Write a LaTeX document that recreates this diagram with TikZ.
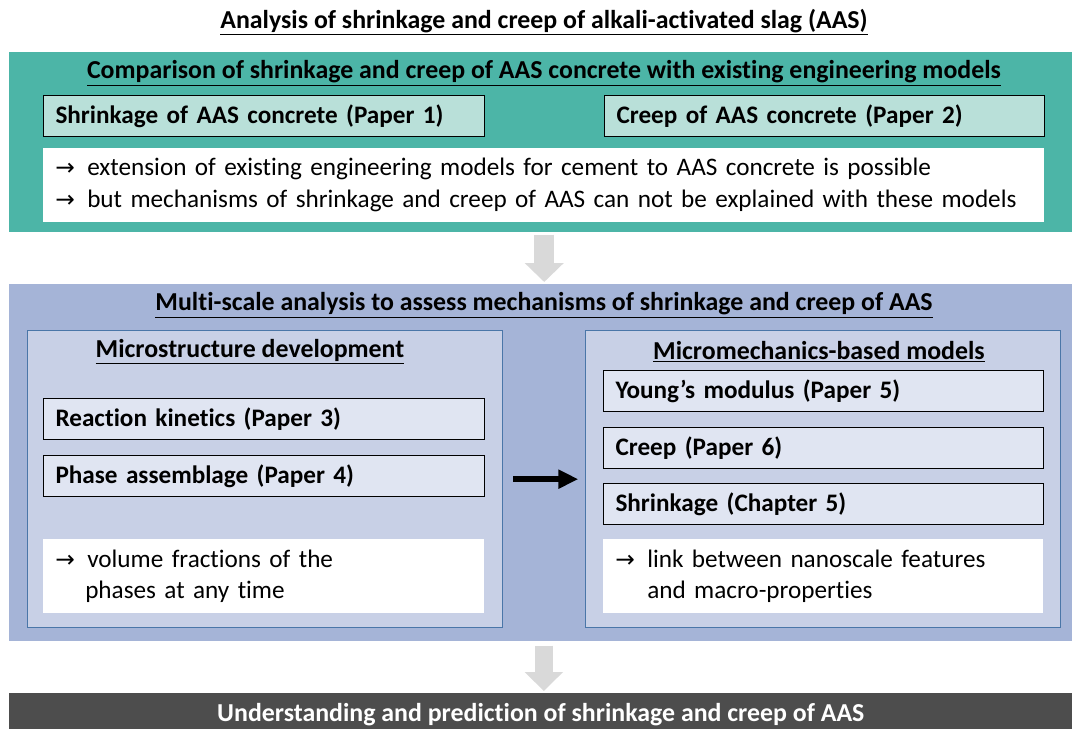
\documentclass[tikz,border=0pt]{standalone}
\usepackage{fontspec}
\setmainfont{Carlito}[Ligatures=NoCommon]
\newfontfamily\arrowfont{DejaVu Sans}
\usetikzlibrary{arrows.meta}

\definecolor{tealband}{HTML}{4CB5A7}
\definecolor{tealbox}{HTML}{B9E0D9}
\definecolor{blueband}{HTML}{A5B4D7}
\definecolor{bluepanel}{HTML}{C8D0E6}
\definecolor{blueline}{HTML}{4A76A8}
\definecolor{bluebox}{HTML}{E0E5F2}
\definecolor{arrowgray}{HTML}{D9D9D9}
\definecolor{darkband}{HTML}{4D4D4D}

\newcommand{\bodyfont}{\fontsize{18.9}{23.3}\selectfont}
\newcommand{\headfont}{\fontsize{19.4}{23.3}\selectfont\bfseries}
\newcommand{\arr}{\makebox[24pt][l]{\arrowfont\fontsize{17.5}{17.5}\selectfont →}}

\begin{document}
\begin{tikzpicture}[x=0.75pt,y=-0.75pt,
  every node/.style={font=\bodyfont},
  band/.style={anchor=north west,minimum width=797.25pt,inner sep=0pt},
  panel/.style={draw=blueline,line width=1pt,fill=bluepanel,anchor=north west,minimum width=356.25pt,minimum height=222.75pt,inner sep=0pt},
  paper/.style={draw=black,line width=0.8pt,anchor=north west,align=left,text width=#1,inner xsep=9pt,inner ysep=0pt,minimum height=31pt,font=\bodyfont\bfseries},
  note/.style={fill=white,anchor=north west,align=left,text width=#1,inner xsep=9pt,inner ysep=0pt,minimum height=55pt},
  heading/.style={font=\headfont}]
  \useasboundingbox (0,0) rectangle (1072,729);
  \node[heading] (title) at (544,22) {\underline{Analysis of shrinkage and creep of alkali-activated slag (AAS)}};

  % comparison with engineering models
  \node[band,fill=tealband,minimum height=135pt] (comp) at (9,52) {};
  \node[heading] (comptitle) at (544,73) {\underline{Comparison of shrinkage and creep of AAS concrete with existing engineering models}};
  \node[paper=312.75pt,fill=tealbox] (paper1) at (43,95) {Shrinkage of AAS concrete (Paper 1)};
  \node[paper=312pt,fill=tealbox] (paper2) at (604,95) {Creep of AAS concrete (Paper 2)};
  \node[note=732.75pt] (compnote) at (43,148) {\arr extension of existing engineering models for cement to AAS concrete is possible\\\arr but mechanisms of shrinkage and creep of AAS can not be explained with these models};

  % multi-scale analysis
  \node[band,fill=blueband,minimum height=267.75pt] (multi) at (9,284) {};
  \node[heading] (multititle) at (544,305) {\underline{Multi-scale analysis to assess mechanisms of shrinkage and creep of AAS}};
  \node[panel] (micro) at (27,330) {};
  \node[panel] (mech) at (585,330) {};
  \node[heading] (microtitle) at (250,352) {\underline{Microstructure development}};
  \node[heading] (mechtitle) at (819,352) {\underline{Micromechanics-based models}};
  \node[paper=312.75pt,fill=bluebox] (paper3) at (43,398) {Reaction kinetics (Paper 3)};
  \node[paper=312.75pt,fill=bluebox] (paper4) at (43,455) {Phase assemblage (Paper 4)};
  \node[note=312.75pt] (micronote) at (43,539) {\arr volume fractions of the\\\hspace*{22.5pt}phases at any time};
  \node[paper=312pt,fill=bluebox] (paper5) at (603,370) {Young’s modulus (Paper 5)};
  \node[paper=312pt,fill=bluebox] (paper6) at (603,427) {Creep (Paper 6)};
  \node[paper=312pt,fill=bluebox] (chap5) at (603,483) {Shrinkage (Chapter 5)};
  \node[note=312pt] (mechnote) at (603,539) {\arr link between nanoscale features\\\hspace*{24pt}and macro-properties};

  % result
  \node[band,fill=darkband,minimum height=27pt,text=white,font=\headfont] (result) at (9,693) {\raisebox{-7.5pt}[0pt][0pt]{Understanding and prediction of shrinkage and creep of AAS}};

  % arrows
  \draw[arrowgray,line width=15pt,-{Triangle[length=14.25pt,width=28.5pt]},shorten <=1.5pt,shorten >=1.5pt] ([xshift=2.6pt]comp.south) -- ([xshift=2.6pt]multi.north);
  \draw[arrowgray,line width=13pt,-{Triangle[length=14.25pt,width=28pt]},shorten <=3pt,shorten >=1.5pt] ([xshift=2.3pt]multi.south) -- ([xshift=2.3pt]result.north);
  \draw[line width=4.5pt,-{Triangle[length=15pt,width=13.5pt]},shorten <=7.5pt,shorten >=5pt] (micro.east) -- (mech.west);
\end{tikzpicture}
\end{document}
